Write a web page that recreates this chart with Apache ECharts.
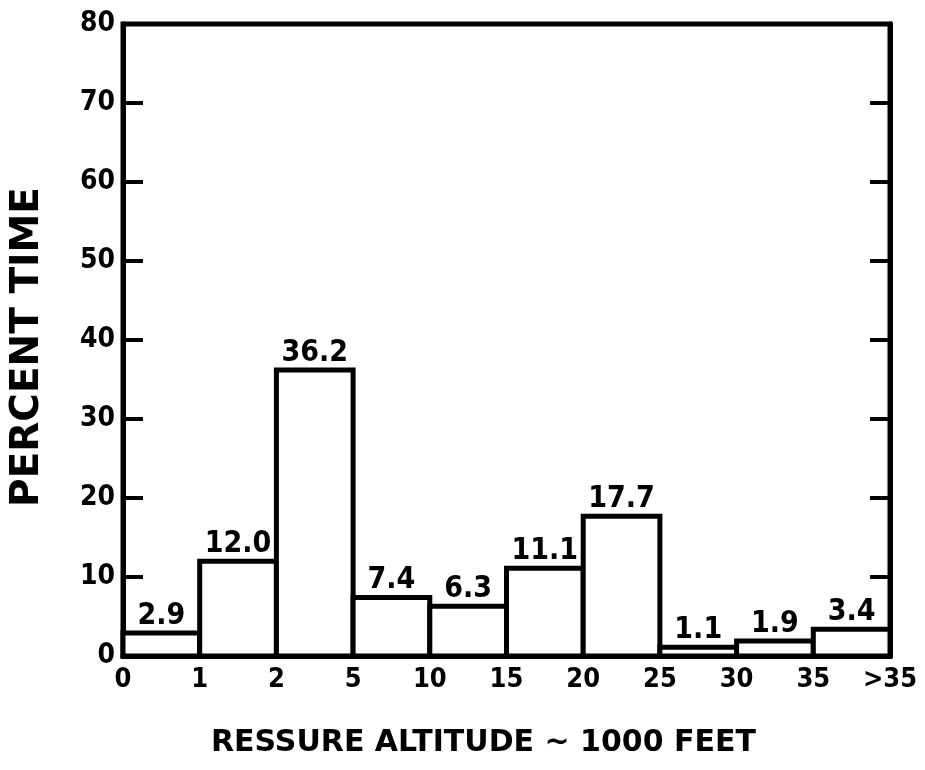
<!DOCTYPE html>
<html>
<head>
<meta charset="utf-8">
<script src="https://cdn.jsdelivr.net/npm/echarts@6/dist/echarts.min.js"></script>
<style>html,body{margin:0;padding:0;background:#fff}#c{width:925px;height:770px}</style>
</head>
<body>
<div id="c"></div>
<script>
var binLabels = ['0', '1', '2', '5', '10', '15', '20', '25', '30', '35', '>35'];
var percentTime = [2.9, 12.0, 36.2, 7.4, 6.3, 11.1, 17.7, 1.1, 1.9, 3.4];
var valueLabels = ['2.9', '12.0', '36.2', '7.4', '6.3', '11.1', '17.7', '1.1', '1.9', '3.4'];
var yTicks = [0, 10, 20, 30, 40, 50, 60, 70, 80];

var FONT = "'DejaVu Sans Condensed', 'DejaVu Sans', sans-serif";
var chart = echarts.init(document.getElementById('c'));
var data = percentTime.map(function (v, i) { return [i, v]; });

chart.setOption({
  animation: false,
  backgroundColor: '#fff',
  grid: { left: 121, right: 35, top: 24, bottom: 114, show: true, borderColor: '#000', borderWidth: 5 },
  xAxis: {
    type: 'value', min: 0, max: binLabels.length - 1, interval: 1,
    axisLine: { show: true, lineStyle: { color: '#000', width: 5 } },
    axisTick: { show: false },
    splitLine: { show: false },
    axisLabel: {
      margin: 10, color: '#000', fontFamily: FONT, fontWeight: 'bold', fontSize: 27,
      formatter: function (v) { return binLabels[v]; }
    },
    name: 'RESSURE ALTITUDE ~ 1000 FEET', nameLocation: 'middle', nameGap: 72,
    nameTextStyle: { color: '#000', fontFamily: "'DejaVu Sans', sans-serif", fontWeight: 'bold', fontSize: 30, padding: [0, 46, 0, 0] }
  },
  yAxis: [{
    type: 'value', min: yTicks[0], max: yTicks[yTicks.length - 1], interval: 10,
    axisLine: { show: true, lineStyle: { color: '#000', width: 5 } },
    axisTick: { show: true, inside: true, length: 20, lineStyle: { color: '#000', width: 4 } },
    splitLine: { show: false },
    axisLabel: { margin: 8, color: '#000', fontFamily: FONT, fontWeight: 'bold', fontSize: 28 },
    name: 'PERCENT TIME', nameLocation: 'middle', nameRotate: 90, nameGap: 76,
    nameTextStyle: { color: '#000', fontFamily: "'DejaVu Sans', sans-serif", fontWeight: 'bold', fontSize: 39, padding: [0, 14, 0, 0] }
  }, {
    type: 'value', position: 'right', min: yTicks[0], max: yTicks[yTicks.length - 1], interval: 10,
    axisLine: { show: true, lineStyle: { color: '#000', width: 5 } },
    axisTick: { show: true, inside: true, length: 20, lineStyle: { color: '#000', width: 4 } },
    splitLine: { show: false },
    axisLabel: { show: false }
  }],
  series: [{
    type: 'custom',
    data: data,
    z: 3,
    renderItem: function (params, api) {
      var i = api.value(0), v = api.value(1);
      var p0 = api.coord([i, 0]);
      var p1 = api.coord([i + 1, v]);
      return {
        type: 'group',
        children: [{
          type: 'rect',
          shape: { x: p0[0], y: p1[1], width: p1[0] - p0[0], height: p0[1] - p1[1] },
          style: { fill: '#fff', stroke: '#000', lineWidth: 5 }
        }, {
          type: 'text',
          style: {
            text: valueLabels[i], x: (p0[0] + p1[0]) / 2, y: p1[1] - 2,
            textAlign: 'center', textVerticalAlign: 'bottom',
            font: 'bold 30px ' + FONT, fill: '#000'
          }
        }]
      };
    }
  }]
});
</script>
</body>
</html>
